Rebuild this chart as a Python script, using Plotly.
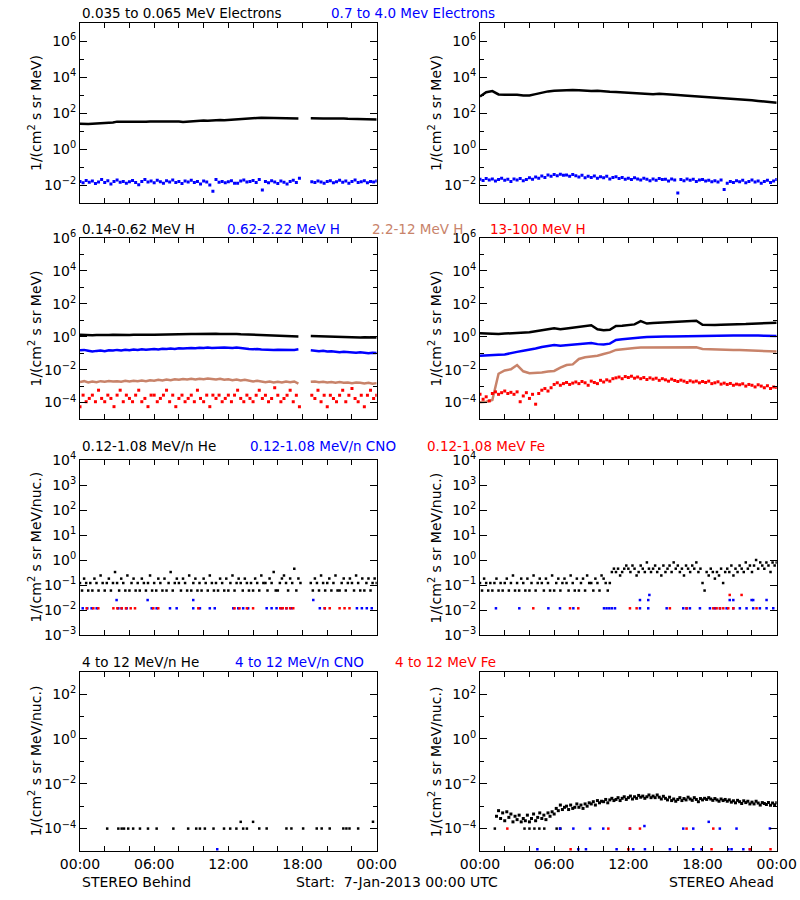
import plotly.graph_objects as go
from datetime import datetime, timedelta

BASE = datetime(2013, 1, 7)

# ---------------- DATA (log10 flux unless noted) ----------------
# Panel 1: STEREO Behind electrons, 20-min samples (black) / 15-min (blue)
beh_e_lo = [
    1.40, 1.38, 1.39, 1.40, 1.41, 1.42, 1.43, 1.44, 1.47, 1.52, 1.50, 1.51,
    1.52, 1.51, 1.50, 1.51, 1.52, 1.53, 1.53, 1.52, 1.54, 1.55, 1.54, 1.55,
    1.53, 1.50, 1.52, 1.53, 1.55, 1.56, 1.58, 1.57, 1.59, 1.60, 1.61, 1.60,
    1.62, 1.63, 1.65, 1.66, 1.68, 1.72, 1.73, 1.72, 1.73, 1.73, 1.72, 1.71,
    1.72, 1.71, 1.72, 1.73, 1.74, 1.70, None, None, 1.71, 1.72, 1.71, 1.70,
    1.70, 1.71, 1.69, 1.69, 1.70, 1.68, 1.68, 1.67, 1.67, 1.66, 1.66, 1.65,
    1.64]
beh_e_hi = [
    -1.80, -1.88, -1.75, -1.85, -1.78, -1.92, -1.83, -1.70,
    -1.86, -1.76, -1.95, -1.80, -1.72, -1.85, -1.80, -1.90,
    -1.82, -1.75, -1.86, -1.98, -1.80, -1.70, -1.84, -1.78,
    -1.88, -1.74, -1.82, -1.90, -1.76, -1.84, -1.72, -1.86,
    -1.80, -1.92, -1.78, -1.83, -1.74, -1.86, -1.80, -1.95,
    -1.78, -1.84, -2.00, -2.35, -1.70, -1.85, -1.80, -1.88,
    -1.82, -1.76, -1.90, -1.90, -1.78, -1.72, -1.84, -1.80,
    -1.75, -1.86, -1.70, -2.28, -1.80, -1.88, -1.76, -1.84,
    -1.92, -1.78, -1.85, -1.95, -1.80, -1.74, -1.86, -1.62,
    None, None, None, -1.82, -1.86, -1.78, -1.84, -1.90,
    -1.80, -1.76, -1.88, -1.82, -1.74, -1.85, -1.78, -1.90,
    -1.80, -1.72, -1.86, -1.82, -1.76, -1.88, -1.80, -1.84,
    -1.78]

# Panel 2: STEREO Ahead electrons, 30-min (black) / 15-min (blue)
ahd_e_lo = [
    2.92, 3.15, 3.22, 3.03, 3.02, 3.02, 3.01, 2.97, 2.97, 3.05, 3.14, 3.20,
    3.24, 3.26, 3.28, 3.28, 3.27, 3.24, 3.22, 3.24, 3.20, 3.18, 3.17, 3.15,
    3.13, 3.12, 3.10, 3.07, 3.04, 3.07, 3.06, 3.02, 3.00, 2.97, 2.95, 2.92,
    2.89, 2.88, 2.86, 2.84, 2.82, 2.80, 2.77, 2.74, 2.71, 2.67, 2.64, 2.60,
    2.57]
ahd_e_hi = [
    -1.68, -1.75, -1.64, -1.72, -1.66, -1.78, -1.70, -1.62,
    -1.74, -1.68, -1.80, -1.66, -1.72, -1.64, -1.76, -1.70,
    -1.60, -1.68, -1.55, -1.62, -1.50, -1.58, -1.44, -1.52,
    -1.42, -1.48, -1.40, -1.46, -1.44, -1.52, -1.42, -1.48,
    -1.56, -1.46, -1.60, -1.52, -1.58, -1.50, -1.62, -1.54,
    -1.60, -1.52, -1.66, -1.58, -1.54, -1.64, -1.58, -1.68,
    -1.62, -1.70, -1.60, -1.66, -1.72, -1.62, -1.68, -1.76,
    -1.66, -1.74, -1.64, -1.70, -1.68, -1.78, -1.66, -1.72,
    -2.45, -1.70, -1.76, -1.66, -1.74, -1.68, -1.80, -1.72,
    -1.70, -1.78, -1.74, -1.82, -1.76, -1.84, -1.72, -2.25,
    -1.90, -1.80, -1.86, -1.76, -1.82, -1.74, -1.88, -1.80,
    -1.72, -1.84, -1.78, -1.90, -1.80, -1.74, -1.86, -1.78,
    -1.70]

# Panel 3: STEREO Behind protons, 20-min (black, blue, tan) / 15-min (red)
beh_h1 = [
    0.12, 0.10, 0.11, 0.09, 0.11, 0.10, 0.11, 0.10, 0.12, 0.11, 0.12, 0.11,
    0.10, 0.12, 0.11, 0.12, 0.11, 0.12, 0.12, 0.13, 0.12, 0.13, 0.12, 0.13,
    0.18, 0.17, 0.18, 0.17, 0.16, 0.17, 0.17, 0.18, 0.17, 0.18, 0.17, 0.18,
    0.17, 0.16, 0.17, 0.15, 0.14, 0.15, 0.13, 0.12, 0.13, 0.10, 0.11, 0.09,
    0.08, 0.09, 0.07, 0.07, 0.06, 0.02, None, None, 0.05, 0.04, 0.03, 0.02,
    0.01, 0.02, 0.00, -0.01, -0.02, -0.03, -0.02, -0.03, -0.04, -0.03, -0.04, -0.03,
    -0.05]
beh_h2 = [
    -0.82, -0.80, -0.85, -0.90, -0.86, -0.84, -0.88, -0.82, -0.84, -0.80, -0.83, -0.79,
    -0.82, -0.78, -0.80, -0.76, -0.79, -0.75, -0.74, -0.77, -0.73, -0.75, -0.72, -0.74,
    -0.70, -0.72, -0.69, -0.68, -0.70, -0.67, -0.69, -0.66, -0.68, -0.66, -0.68, -0.65,
    -0.67, -0.69, -0.66, -0.70, -0.72, -0.74, -0.76, -0.74, -0.78, -0.80, -0.78, -0.81,
    -0.79, -0.80, -0.78, -0.78, -0.80, -0.76, None, None, -0.82, -0.86, -0.88, -0.85,
    -0.90, -0.88, -0.92, -0.94, -0.92, -0.95, -0.96, -0.98, -0.95, -0.98, -1.00, -0.97,
    -0.99]
beh_h3 = [
    -2.75, -2.70, -2.78, -2.72, -2.76, -2.70, -2.74, -2.69, -2.72, -2.70, -2.74, -2.68,
    -2.72, -2.67, -2.70, -2.66, -2.70, -2.64, -2.68, -2.62, -2.66, -2.60, -2.64, -2.58,
    -2.62, -2.57, -2.60, -2.56, -2.60, -2.55, -2.58, -2.54, -2.57, -2.60, -2.56, -2.62,
    -2.58, -2.64, -2.60, -2.66, -2.62, -2.68, -2.72, -2.68, -2.74, -2.76, -2.72, -2.78,
    -2.74, -2.78, -2.72, -2.76, -2.72, -2.85, None, None, -2.74, -2.72, -2.76, -2.74,
    -2.78, -2.75, -2.80, -2.76, -2.80, -2.78, -2.82, -2.78, -2.80, -2.84, -2.80, -2.86,
    -2.82]
beh_h4 = [
    -4.25, -3.55, -3.95, -3.75, -3.55, -3.95, -3.25, -3.75,
    -3.95, -3.55, -3.75, -4.25, -3.55, -3.25, -3.95, -3.55,
    -3.75, -3.95, -3.55, -3.25, -3.95, -3.75, -4.25, -3.55,
    -3.55, -3.95, -3.75, -3.55, -3.25, -3.95, -3.55, -4.25,
    -3.75, -3.55, -3.95, -3.75, -3.55, -3.95, -3.25, -3.75,
    -3.95, -3.55, -4.25, -3.55, -3.75, -3.55, -3.95, -3.75,
    -3.55, -3.95, -3.55, -3.25, -3.75, -3.95, -3.55, -3.75,
    -3.95, -3.55, -3.25, -3.75, -3.55, -3.95, -3.75, -3.10,
    -3.55, -3.95, -3.75, -3.55, -3.25, -3.95, -3.55, -4.25,
    None, None, None, -3.55, -3.75, -3.25, -3.95, -3.55,
    -4.25, -3.55, -3.75, -3.95, -3.55, -3.25, -3.95, -3.55,
    -3.15, -3.75, -3.95, -3.55, -4.25, -3.55, -3.25, -3.75,
    -3.55]

# Panel 4: STEREO Ahead protons, 30-min (black, blue, tan) / 15-min (red)
ahd_h1 = [
    0.21, 0.19, 0.21, 0.17, 0.19, 0.21, 0.19, 0.23, 0.27, 0.33, 0.41, 0.45,
    0.51, 0.45, 0.50, 0.55, 0.57, 0.62, 0.70, 0.45, 0.40, 0.42, 0.65, 0.67,
    0.69, 0.75, 0.95, 0.80, 0.83, 0.85, 0.87, 0.89, 0.93, 0.95, 0.97, 0.97,
    0.73, 0.71, 0.71, 0.73, 0.73, 0.75, 0.77, 0.77, 0.79, 0.81, 0.81, 0.83,
    0.85]
ahd_h2 = [
    -1.15, -1.12, -1.13, -1.10, -1.08, -1.02, -0.92, -0.85, -0.80, -0.72, -0.62, -0.55,
    -0.50, -0.55, -0.52, -0.48, -0.44, -0.40, -0.38, -0.45, -0.47, -0.42, -0.20, -0.15,
    -0.10, -0.06, -0.04, -0.02, 0.00, 0.00, 0.01, 0.01, 0.02, 0.02, 0.03, 0.04,
    0.04, 0.05, 0.06, 0.07, 0.08, 0.08, 0.07, 0.08, 0.07, 0.07, 0.06, 0.05,
    0.05]
ahd_h3 = [
    -3.99, -3.95, -3.85, -2.25, -2.05, -1.98, -1.72, -2.10, -2.22, -2.22, -2.18, -2.12,
    -2.08, -1.88, -1.72, -1.68, -1.35, -1.25, -1.20, -1.15, -1.05, -0.95, -0.80, -0.75,
    -0.70, -0.68, -0.66, -0.66, -0.67, -0.66, -0.66, -0.65, -0.64, -0.64, -0.63, -0.64,
    -0.74, -0.76, -0.77, -0.78, -0.80, -0.80, -0.81, -0.82, -0.82, -0.83, -0.84, -0.86,
    -0.90]
ahd_h4 = [
    -3.50, -3.80, -3.65, -3.90, -3.45, -3.35, -3.50, -3.40,
    -3.30, -3.45, -3.38, -3.50, -3.35, -3.95, -3.60, -3.40,
    -3.75, -3.50, -4.10, -3.45, -3.25, -3.15, -3.30, -3.10,
    -2.90, -2.80, -2.95, -2.85, -2.78, -2.90, -2.82, -2.75,
    -2.85, -2.72, -2.80, -2.95, -2.70, -2.78, -2.85, -2.65,
    -2.75, -2.62, -2.70, -2.55, -2.50, -2.45, -2.55, -2.42,
    -2.48, -2.40, -2.52, -2.45, -2.55, -2.48, -2.60, -2.50,
    -2.58, -2.52, -2.65, -2.55, -2.62, -2.70, -2.58, -2.66,
    -2.72, -2.64, -2.70, -2.78, -2.68, -2.75, -2.70, -2.80,
    -2.72, -2.78, -2.70, -2.85, -2.80, -2.74, -2.88, -2.82,
    -2.90, -2.84, -2.95, -2.88, -2.92, -2.86, -3.00, -2.90,
    -2.95, -3.05, -2.92, -3.00, -3.10, -2.98, -3.15, -3.05,
    -3.08]

# Panels 5/6: 0.12-1.08 MeV/n He, 10-min samples (linear flux levels)
A, B, C, D, E, F, G, H, I = 0.06, 0.12, 0.18, 0.24, 0.33, 0.45, 0.6, 0.8, 1.0
beh_he_lo = [
    B, A, C, B, A, B,  A, C, B, A, D, B,  A, B, C, A, B, E,  B, A, C, B, A, D,
    A, B, C, A, B, A,  C, B, A, B, D, A,  B, A, C, B, A, C,  A, B, E, A, B, C,
    B, A, C, B, A, D,  A, B, C, A, B, A,  C, B, A, D, B, A,  B, A, C, B, A, C,
    A, B, D, A, B, C,  B, A, C, B, A, B,  A, C, B, A, D, B,  B, A, C, B, E, A,
    A, B, C, D, B, A,  C, B, F, A, C, B,  None, None, None, None, B, A,  C, B, A, D, B, A,
    B, C, A, B, D, A,  A, B, C, A, B, C,  B, A, D, B, A, C,  A, B, C, A, B, C,
    B]
ahd_he_lo = [
    B, A, C, B, A, B,  A, B, C, A, B, A,  B, C, A, B, D, A,  B, A, C, B, A, C,
    A, B, D, A, B, C,  B, A, C, B, A, D,  A, B, C, A, B, C,  B, A, D, B, A, C,
    A, B, C, A, D, B,  B, A, C, B, A, D,  C, B, A, B, E, F,  E, F, D, E, F, G,
    F, E, G, F, D, E,  G, F, E, H, F, E,  F, G, E, F, D, G,  E, F, G, E, H, F,
    G, E, F, D, G, F,  E, G, F, H, E, F,  B, A, E, D, F, E,  C, E, D, F, B, E,
    F, E, G, D, F, E,  G, F, E, H, F, G,  E, G, I, F, H, G,  F, H, G, E, H, G,
    H]

# CNO / Fe low energy: times (hours) and flux
beh_cno_lo_t = [0.22, 0.59, 0.94, 1.35, 3.1, 3.37, 3.77, 5.8, 6.2, 7.28, 7.82, 9.16, 9.7,
                10.5, 10.9, 12.4, 12.8, 13.2, 13.6, 15.1, 15.5, 15.9, 16.3, 16.7, 17.1,
                19.4, 19.8, 22.4, 22.8, 23.2, 23.6, 2.96, 5.47, 9.16, 18.87]
beh_cno_lo_v = [0.0117] * 31 + [0.025, 0.025, 0.025, 0.025]
beh_fe_lo_t = [0.54, 1.08, 1.48, 2.7, 3.02, 3.37, 3.72, 4.1, 4.45, 5.93, 6.33, 9.57, 12.5,
               12.9, 13.5, 14.0, 16.2, 16.4, 16.7, 17.0, 17.25, 19.8, 20.2, 21.0, 21.4, 21.8]
beh_fe_lo_v = [0.0117] * 26
ahd_cno_lo_t = [1.29, 3.18, 5.53, 6.47, 7.55, 10.03, 10.24, 10.46, 10.67, 10.92, 12.94,
                13.61, 15.1, 16.44, 16.71, 16.98, 17.79, 18.6, 19.0, 19.41, 19.95, 20.49,
                21.02, 21.56, 22.1, 22.64, 23.18, 23.72,
                12.94, 13.61, 20.2, 20.49, 21.97, 22.1, 23.18, 13.7]
ahd_cno_lo_v = [0.0117] * 28 + [0.025] * 7 + [0.04]
ahd_fe_lo_t = [4.31, 7.28, 7.95, 12.13, 12.67, 15.36, 16.71, 18.87, 19.14, 19.41, 19.68,
               20.08, 20.49, 22.37, 20.2, 21.16]
ahd_fe_lo_v = [0.0117] * 14 + [0.04, 0.04]

# Panel 7: 4-12 MeV/n, STEREO Behind (sparse)
beh_he_hi_t = [2.2, 3.1, 3.37, 3.56, 3.9, 4.3, 4.85, 5.5, 6.2, 7.55, 8.75, 9.4, 9.7, 10.1,
               10.8, 11.65, 12.15, 12.65, 13.0, 13.2, 13.5, 14.0, 14.5, 15.1, 16.7, 17.1,
               18.05, 19.15, 19.55, 20.2, 21.3, 21.55, 21.8, 22.5, 23.7]
beh_he_hi_v = [1e-4] * 18 + [2e-4, 1e-4, 1e-4, 2e-4] + [1e-4] * 12 + [2e-4]
beh_cno_hi_t = [11.1]
beh_cno_hi_v = [1.2e-5]

# Panel 8: 4-12 MeV/n, STEREO Ahead, He log10 at 10-min samples
ahd_he_hi = [
    None, None, None, None, None, None,
    None, None, -3.45, -3.20, -3.55, -3.30,
    -3.65, -3.25, -3.50, -3.35, -3.70, -3.45,
    -3.60, -3.40, -3.70, -3.55, -3.65, -3.40,
    -3.70, -3.55, -3.35, -3.65, -3.50, -3.30,
    -3.55, -3.40, -3.60, -3.30, -3.45, -3.25,
    -3.35, -3.10, -3.20, -2.95, -3.15, -3.05,
    -3.00, -3.15, -2.95, -3.10, -3.05, -2.90,
    -3.05, -2.95, -3.10, -2.90, -3.00, -2.85,
    -2.90, -2.80, -2.95, -2.75, -2.85, -2.78,
    -2.80, -2.70, -2.85, -2.72, -2.65, -2.75,
    -2.70, -2.62, -2.75, -2.65, -2.58, -2.70,
    -2.62, -2.55, -2.68, -2.58, -2.65, -2.52,
    -2.60, -2.55, -2.65, -2.58, -2.50, -2.62,
    -2.55, -2.62, -2.50, -2.60, -2.68, -2.56,
    -2.65, -2.72, -2.60, -2.75, -2.68, -2.78,
    -2.70, -2.62, -2.75, -2.66, -2.72, -2.60,
    -2.68, -2.74, -2.62, -2.70, -2.80, -2.66,
    -2.72, -2.65, -2.70, -2.62, -2.68, -2.74,
    -2.66, -2.72, -2.78, -2.68, -2.75, -2.70,
    -2.78, -2.72, -2.82, -2.76, -2.85, -2.74,
    -2.80, -2.88, -2.76, -2.84, -2.78, -2.90,
    -2.82, -2.90, -2.78, -2.86, -2.95, -2.84,
    -2.88, -2.92, -2.84, -2.96, -2.86, -2.94,
    -2.85]
ahd_he_hi_floor_t = [1.2, 3.6, 4.0, 4.4, 4.8, 5.2, 6.2, 6.5]
ahd_he_hi_floor_v = [1e-4] * 8
ahd_cno_hi_t = [6.47, 7.55, 8.9, 9.97, 12.13, 13.3, 16.44, 17.25, 19.4, 20.75, 23.45, 18.5,
                4.64, 7.95, 8.57, 11.05, 12.4, 13.34, 15.36, 17.25, 17.92, 20.08, 20.35,
                21.3, 21.83]
ahd_cno_hi_v = [1e-4] * 5 + [1.3e-4] + [1e-4] * 5 + [2e-4] + [1.2e-5] * 13
ahd_fe_hi_t = [2.21, 10.38, 12.13, 12.94, 16.71, 18.87, 7.33, 12.0, 18.73, 21.83, 23.5]
ahd_fe_hi_v = [1e-4] * 6 + [1.2e-5] * 5

# Titles
row_titles = [
    [("0.035 to 0.065 MeV Electrons", "#000000", 80), ("0.7 to 4.0 Mev Electrons", "#0000ff", 329)],
    [("0.14-0.62 MeV H", "#000000", 80), ("0.62-2.22 MeV H", "#0000ff", 225),
     ("2.2-12 MeV H", "#c8836a", 370), ("13-100 MeV H", "#ff0000", 488)],
    [("0.12-1.08 MeV/n He", "#000000", 80), ("0.12-1.08 MeV/n CNO", "#0000ff", 248),
     ("0.12-1.08 MeV Fe", "#ff0000", 425)],
    [("4 to 12 MeV/n He", "#000000", 80), ("4 to 12 MeV/n CNO", "#0000ff", 233),
     ("4 to 12 MeV Fe", "#ff0000", 393)],
]

# ---------------- helpers ----------------
BLACK, BLUE, TAN, RED = "#000000", "#0000ff", "#c8836a", "#ff0000"
W, Hpx = 800, 900


def grid(n, step_h):
    return [BASE + timedelta(hours=i * step_h) for i in range(n)]


def at(hours):
    return [BASE + timedelta(hours=h) for h in hours]


def unlog(vals):
    return [None if v is None else 10 ** v for v in vals]


fig = go.Figure()


def line(ax, x, y, color, width=2.5):
    fig.add_trace(go.Scatter(x=x, y=y, mode="lines", line=dict(color=color, width=width),
                             connectgaps=False, xaxis="x%d" % ax, yaxis="y%d" % ax,
                             showlegend=False, hoverinfo="skip"))


def dots(ax, x, y, color, size=3):
    fig.add_trace(go.Scatter(x=x, y=y, mode="markers",
                             marker=dict(color=color, size=size, symbol="square",
                                         line=dict(width=0)),
                             xaxis="x%d" % ax, yaxis="y%d" % ax,
                             showlegend=False, hoverinfo="skip"))


# Panel 1 / 2
line(1, grid(len(beh_e_lo), 1 / 3), unlog(beh_e_lo), BLACK)
dots(1, grid(len(beh_e_hi), 0.25), unlog(beh_e_hi), BLUE)
line(2, grid(len(ahd_e_lo), 0.5), unlog(ahd_e_lo), BLACK)
dots(2, grid(len(ahd_e_hi), 0.25), unlog(ahd_e_hi), BLUE)
# Panel 3 / 4
line(3, grid(len(beh_h1), 1 / 3), unlog(beh_h1), BLACK)
line(3, grid(len(beh_h2), 1 / 3), unlog(beh_h2), BLUE)
line(3, grid(len(beh_h3), 1 / 3), unlog(beh_h3), TAN)
dots(3, grid(len(beh_h4), 0.25), unlog(beh_h4), RED)
line(4, grid(len(ahd_h1), 0.5), unlog(ahd_h1), BLACK)
line(4, grid(len(ahd_h2), 0.5), unlog(ahd_h2), BLUE)
line(4, grid(len(ahd_h3), 0.5), unlog(ahd_h3), TAN)
dots(4, grid(len(ahd_h4), 0.25), unlog(ahd_h4), RED)
# Panel 5 / 6
dots(5, grid(len(beh_he_lo), 1 / 6), beh_he_lo, BLACK, 2.5)
dots(5, at(beh_cno_lo_t), beh_cno_lo_v, BLUE, 2.5)
dots(5, at(beh_fe_lo_t), beh_fe_lo_v, RED, 2.5)
dots(6, grid(len(ahd_he_lo), 1 / 6), ahd_he_lo, BLACK, 2.5)
dots(6, at(ahd_cno_lo_t), ahd_cno_lo_v, BLUE, 2.5)
dots(6, at(ahd_fe_lo_t), ahd_fe_lo_v, RED, 2.5)
# Panel 7 / 8
dots(7, at(beh_he_hi_t), beh_he_hi_v, BLACK, 2.5)
dots(7, at(beh_cno_hi_t), beh_cno_hi_v, BLUE, 2.5)
dots(8, grid(len(ahd_he_hi), 1 / 6), unlog(ahd_he_hi), BLACK)
dots(8, at(ahd_he_hi_floor_t), ahd_he_hi_floor_v, BLACK, 2.5)
dots(8, at(ahd_cno_hi_t), ahd_cno_hi_v, BLUE, 2.5)
dots(8, at(ahd_fe_hi_t), ahd_fe_hi_v, RED, 2.5)

# ---------------- layout ----------------
FONT = "DejaVu Sans"
cols = [(80, 376.7), (480, 776.7)]
rows = [(23, 203, -3, 7, 2), (238, 419, -5, 6, 2), (460, 635, -3, 4, 1), (671.7, 851, -5, 3, 2)]

tick_hours = list(range(0, 25, 2))
tick_times = at(tick_hours)
tick_text = ["%02d:00" % (h % 24) if h % 6 == 0 else "" for h in tick_hours]


def sup(e):
    return "10<sup>%s</sup>" % (str(e).replace("-", "\u2212"))


layout = dict(width=W, height=Hpx, autosize=False,
              margin=dict(l=0, r=0, t=0, b=0, autoexpand=False),
              paper_bgcolor="white", plot_bgcolor="white",
              font=dict(family=FONT, size=14, color="black"))
annotations = []
ax = 0
for r, (top, bot, ylo, yhi, lab_step) in enumerate(rows):
    for c, (left, right) in enumerate(cols):
        ax += 1
        major = [e for e in range(ylo, yhi + 1) if (e % lab_step == 0)]
        minor = [e for e in range(ylo, yhi + 1) if (e % lab_step != 0)]
        layout["xaxis%d" % ax] = dict(
            domain=[left / W, right / W], anchor="y%d" % ax, type="date",
            range=[BASE, BASE + timedelta(hours=24)],
            tickmode="array", tickvals=tick_times, ticktext=tick_text,
            showticklabels=(r == 3), ticks="inside", ticklen=5, tickcolor="black",
            showline=True, linecolor="black", linewidth=1, mirror="allticks",
            showgrid=False, zeroline=False, tickfont=dict(size=14))
        layout["yaxis%d" % ax] = dict(
            domain=[1 - bot / Hpx, 1 - top / Hpx], anchor="x%d" % ax, type="log",
            range=[ylo, yhi], tickmode="array",
            tickvals=[10.0 ** e for e in major], ticktext=[sup(e) for e in major],
            ticks="inside", ticklen=7, tickcolor="black",
            minor=dict(tickvals=[10.0 ** e for e in minor], ticks="inside", ticklen=4,
                       tickcolor="black", showgrid=False),
            showline=True, linecolor="black", linewidth=1, mirror="allticks",
            showgrid=False, zeroline=False, tickfont=dict(size=14))
        ytitle = "1/(cm<sup>2</sup> s sr MeV)" if r < 2 else "1/(cm<sup>2</sup> s sr MeV/nuc.)"
        annotations.append(dict(text=ytitle, textangle=-90, x=(left - 45) / W,
                                y=1 - (top + bot) / 2 / Hpx, xref="paper", yref="paper",
                                xanchor="center", yanchor="middle", showarrow=False,
                                font=dict(size=14, family=FONT)))

title_y = [13, 229, 446, 662]
for r, items in enumerate(row_titles):
    for text, color, xpx in items:
        annotations.append(dict(text=text, x=xpx / W, y=1 - title_y[r] / Hpx, xref="paper",
                                yref="paper", xanchor="left", yanchor="middle",
                                showarrow=False, font=dict(size=13.5, color=color, family=FONT)))

for text, xpx, anchor in [("STEREO Behind", 80, "left"),
                          ("Start:\u00a0 7-Jan-2013 00:00 UTC", 294, "left"),
                          ("STEREO Ahead", 776, "right")]:
    annotations.append(dict(text=text, x=xpx / W, y=1 - 882 / Hpx, xref="paper", yref="paper",
                            xanchor=anchor, yanchor="middle", showarrow=False,
                            font=dict(size=14, family=FONT)))

layout["annotations"] = annotations
fig.update_layout(**layout)
fig.write_html("out.html", config={"displayModeBar": False},
               post_script="document.body.style.margin='0px';")
